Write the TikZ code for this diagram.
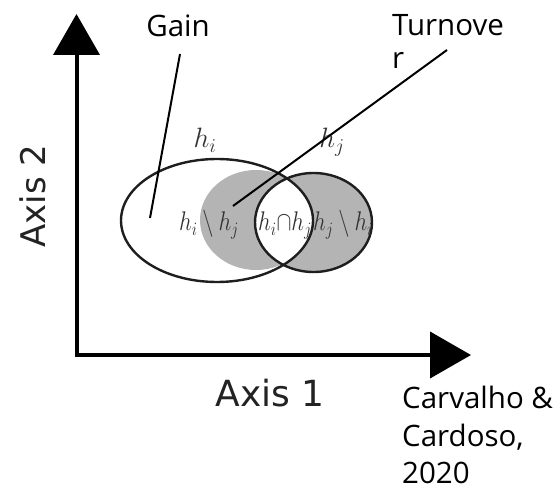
\RequirePackage{fix-cm}
\documentclass[tikz,border=0pt]{standalone}
\usepackage{fontspec}
\newfontfamily\annotfont{Open Sans}
\newfontfamily\axisfont{DejaVu Sans}
\usetikzlibrary{arrows.meta}
\definecolor{fillgray}{RGB}{180,180,180}
\definecolor{inkgray}{RGB}{30,30,30}
\definecolor{labgray}{RGB}{50,50,50}
\definecolor{axlab}{RGB}{35,35,35}
\begin{document}
\begin{tikzpicture}[x=1pt,y=-1pt,
  axisline/.style={line width=4pt, line join=miter, draw=black,
    arrows={Triangle[length=41pt,width=46pt]-Triangle[length=41pt,width=46pt]}},
  setline/.style={line width=2.4pt, draw=inkgray},
  conn/.style={line width=2pt, draw=black},
  annot/.style={font=\annotfont\fontsize{29.5}{33}\selectfont, inner sep=0pt, text=black},
  axislabel/.style={font=\axisfont\fontsize{36}{40}\selectfont, inner sep=0pt, text=axlab},
  setlabel/.style={font=\fontsize{28}{28}\selectfont, inner sep=0pt, text=labgray},
  partlabel/.style={font=\fontsize{27}{27}\selectfont, inner sep=0pt, text=labgray, xscale=0.83}
]
\useasboundingbox (0,0) rectangle (559,494);

% set centres
\coordinate (ci) at (217,220.5);
\coordinate (cj) at (313.5,222.5);
\coordinate (cg) at (256,220);

% gray part of h_i (turnover on the left)
\begin{scope}
  \clip (ci) ellipse [x radius=96pt, y radius=61.5pt];
  \fill[fillgray] (cg) ellipse [x radius=56pt, y radius=50pt];
\end{scope}
% gray h_j
\fill[fillgray] (cj) ellipse [x radius=58.5pt, y radius=49.5pt];
% white intersection
\begin{scope}
  \clip (ci) ellipse [x radius=96pt, y radius=61.5pt];
  \fill[white] (cj) ellipse [x radius=58.5pt, y radius=49.5pt];
\end{scope}
% outlines
\draw[setline] (ci) ellipse [x radius=96pt, y radius=61.5pt];
\draw[setline] (cj) ellipse [x radius=58.5pt, y radius=49.5pt];

% axes
\coordinate (O) at (76.5,355);
\coordinate (ytip) at (76.5,14);
\coordinate (xtip) at (471,355);
\draw[axisline] (ytip) -- (O) -- (xtip);

% axis labels
\node[axislabel, anchor=base] (ax1) at (270,406) {Axis 1};
\node[axislabel, anchor=base, rotate=90, font=\axisfont\fontsize{34}{38}\selectfont] (ax2) at (45,196) {Axis 2};

% set labels
\node[setlabel, anchor=base] (li) at (205,148) {$h_i$};
\node[setlabel, anchor=base] (lj) at (332,148) {$h_j$};
\node[partlabel, anchor=base] (pij) at (209,231) {$h_i\setminus h_j$};
\node[partlabel, anchor=base] (pint) at (285,231) {$h_i{\cap}h_j$};
\node[partlabel, anchor=base] (pji) at (343,231) {$h_j\setminus h_i$};

% annotations
\node[annot, anchor=base] (gain) at (178,37) {Gain};
\node[annot, anchor=north west, align=left] (turn) at (392,14.5) {Turnove\\r};
\node[annot, anchor=north west, align=left, font=\annotfont\fontsize{29.5}{37.5}\selectfont] (cite) at (402,386) {Carvalho \&\\Cardoso,\\2020};

% connectors
\coordinate (gainend) at (150,218);
\coordinate (turnstart) at (447,50);
\coordinate (turnend) at (233,206);
\draw[conn] ([xshift=2pt,yshift=-17pt]gain.base) -- (gainend);
\draw[conn] (turnstart) -- (turnend);
\end{tikzpicture}
\end{document}
